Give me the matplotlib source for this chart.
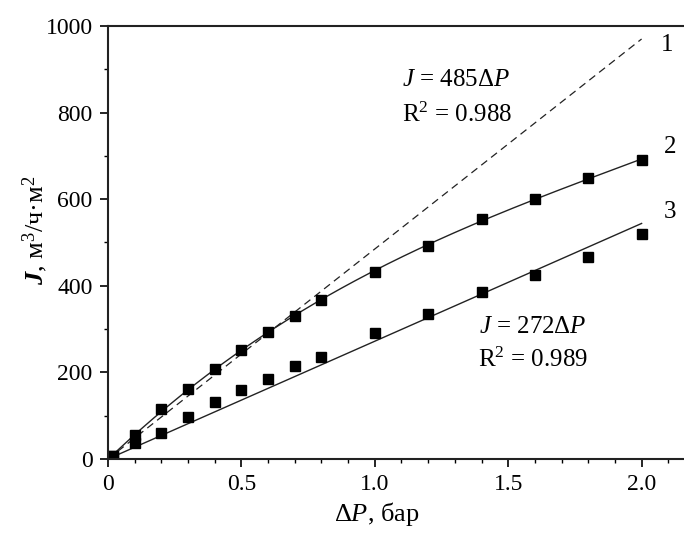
import numpy as np
import matplotlib
matplotlib.use("Agg")
import matplotlib.pyplot as plt
from matplotlib.ticker import MultipleLocator

plt.rcParams['font.family'] = ['Liberation Serif', 'DejaVu Serif']
plt.rcParams['mathtext.fontset'] = 'custom'
plt.rcParams['mathtext.rm'] = 'Liberation Serif'
plt.rcParams['mathtext.it'] = 'Liberation Serif:italic'
plt.rcParams['mathtext.bf'] = 'Liberation Serif:bold'
plt.rcParams['mathtext.bfit'] = 'Liberation Serif:bold:italic'

dP = [0.02, 0.1, 0.2, 0.3, 0.4, 0.5, 0.6, 0.7, 0.8, 1.0, 1.2, 1.4, 1.6, 1.8, 2.0]
J2 = [7, 55, 115, 161, 208, 252, 293, 331, 367, 432, 492, 554, 600, 650, 690]
J3 = [7, 36, 61, 98, 132, 160, 185, 215, 236, 290, 336, 385, 425, 467, 520]
k1 = 485
k3 = 272
curve_labels = ["1", "2", "3"]

W, H = 684, 533
fig = plt.figure(figsize=(W/100, H/100), dpi=100)
AW = 2.2*266.8
ax = fig.add_axes([108/W, 74/H, AW/W, 433/H])

xx = np.linspace(0, 2.0, 200)
ax.plot(xx, k1*xx, ls=(0, (6, 4)), color='#222222', lw=0.9)
c = np.polyfit(dP, J2, 3)
ax.plot(xx, np.polyval(c, xx), color='#222222', lw=1.0)
ax.plot(xx, k3*xx, color='#222222', lw=1.0)

ax.plot(dP, J2, 's', color='black', ms=7.2)
ax.plot(dP, J3, 's', color='black', ms=7.2)

ax.set_xlim(0, 2.2)
ax.set_ylim(0, 1000)
ax.set_xticks([0, 0.5, 1.0, 1.5, 2.0])
ax.set_xticklabels(["0", "0.5", "1.0", "1.5", "2.0"])
ax.xaxis.set_minor_locator(MultipleLocator(0.1))
ax.yaxis.set_major_locator(MultipleLocator(200))
ax.yaxis.set_minor_locator(MultipleLocator(100))
ax.tick_params(axis='both', which='major', direction='out', length=6, width=1.2, labelsize=17, pad=5)
ax.tick_params(axis='both', which='minor', direction='out', length=3.2, width=1.0)
ax.tick_params(right=False, top=False, which='both')
for s in ax.spines.values():
    s.set_linewidth(1.5)
    s.set_color('#222222')
ax.spines['right'].set_visible(False)

ax.set_xlabel(r"$\Delta P$, бар", fontsize=19)
ax.xaxis.set_label_coords((377-108)/AW, (459-500)/433)
ax.set_ylabel(r"$\mathbfit{J}$, м$^3$/ч·м$^2$", fontsize=19)
ax.yaxis.set_label_coords((50-108)/AW, (459-230)/433)

ax.text(456/W, 1-80/H, r"$J$ = 485$\Delta P$", transform=fig.transFigure, ha='center', va='center', fontsize=18)
ax.text(457/W, 1-115/H, r"R$^2$ = 0.988", transform=fig.transFigure, ha='center', va='center', fontsize=18)
ax.text(533/W, 1-327/H, r"$J$ = 272$\Delta P$", transform=fig.transFigure, ha='center', va='center', fontsize=18)
ax.text(533/W, 1-360/H, r"R$^2$ = 0.989", transform=fig.transFigure, ha='center', va='center', fontsize=18)

for lab, (px, py) in zip(curve_labels, [(667, 45), (670, 147), (670, 212)]):
    fig.text(px/W, 1-py/H, lab, ha='center', va='center', fontsize=18)

fig.savefig("out.png", dpi=100)
